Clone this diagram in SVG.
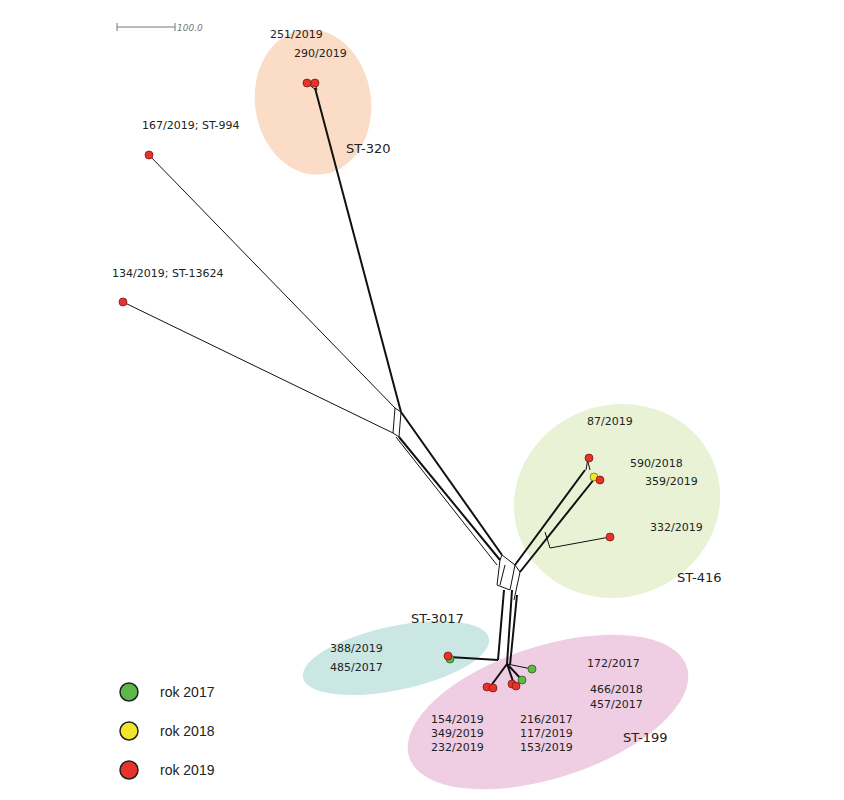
<svg xmlns="http://www.w3.org/2000/svg" width="844" height="800" viewBox="0 0 844 800">
<style>
text{font-family:"DejaVu Sans",sans-serif;font-size:11px;fill:#222}
.st{font-size:13px}
.lg{font-size:14px;font-family:"Liberation Sans",sans-serif}
.e{fill:none;stroke:#111;stroke-width:1}
.b{fill:none;stroke:#111;stroke-width:2}
.r{fill:#e8332a;stroke:#7a1a15;stroke-width:0.8}
.g{fill:#5cb848;stroke:#2d5e22;stroke-width:0.8}
.y{fill:#f1e62a;stroke:#7a7315;stroke-width:0.8}
</style>
<rect width="844" height="800" fill="#fff"/>
<g id="clusters">
<ellipse cx="313" cy="102" rx="58" ry="73" transform="rotate(-8 313 102)" fill="#fbdcc6"/>
<ellipse cx="617" cy="501" rx="104" ry="96" transform="rotate(-20 617 501)" fill="#eaf2d5"/>
<ellipse cx="396" cy="658" rx="95" ry="32" transform="rotate(-12 396 658)" fill="#cbe7e4"/>
<ellipse cx="548" cy="712" rx="146" ry="66" transform="rotate(-18 548 712)" fill="#efcde3"/>
</g>
<g id="scale"><line x1="117" y1="27" x2="175" y2="27" stroke="#777"/><line x1="117" y1="23" x2="117" y2="31" stroke="#777"/><line x1="175" y1="23" x2="175" y2="31" stroke="#777"/><text x="177" y="31" style="font-size:9px;font-style:italic;fill:#777">100.0</text></g>
<g id="connectors">
<path class="e" d="M149 155 L395 408 M123 302 L393 433 M395 408 L393 433 M401 412 L399 437 M395 408 L401 412 M393 433 L399 437"/>
<path class="b" d="M315 88 L401 412"/>
<path class="e" d="M307 83 L316 90 M315 83 L317 90"/>
<path class="b" d="M401 412 L502 555 M399 437 L500 560"/>
<path class="e" d="M396 437 L497 565"/>
<path class="e" d="M502 555 L515 565 L510 590 L497 585 L500 560 Z M505 565 L500 585 M515 565 L520 572 L514 600"/>
<path class="b" d="M515 565 L585 470 M520 572 L595 478"/>
<path class="e" d="M588 462 L590 470 M595 478 L600 480 M588 458 L586 470"/>
<path class="e" d="M545 532 L550 548 L610 537"/>
<path class="b" d="M504 590 L498 660 M512 590 L507 664 M517 595 L510 665"/>
<path class="b" d="M449 657 L498 660"/>
<path class="b" d="M507 664 L490 687 M507 664 L514 684 M507 664 L522 680"/>
<path class="e" d="M507 664 L532 669"/>
</g>
<g id="nodes">
<circle class="r" cx="307" cy="83" r="4"/><circle class="r" cx="315" cy="83" r="4"/>
<circle class="r" cx="149" cy="155" r="4"/>
<circle class="r" cx="123" cy="302" r="4"/>
<circle class="r" cx="589" cy="458" r="4"/>
<circle class="y" cx="594" cy="477" r="4"/><circle class="r" cx="600" cy="480" r="4"/>
<circle class="r" cx="610" cy="537" r="4"/>
<circle class="g" cx="450" cy="659" r="4"/><circle class="r" cx="448" cy="656" r="4"/>
<circle class="g" cx="532" cy="669" r="4"/>
<circle class="g" cx="522" cy="680" r="4"/>
<circle class="r" cx="487" cy="687" r="4"/><circle class="r" cx="493" cy="688" r="4"/>
<circle class="r" cx="512" cy="684" r="4"/><circle class="r" cx="516" cy="686" r="4"/>
</g>
<g id="labels">
<text x="270" y="38">251/2019</text><text x="294" y="57">290/2019</text>
<text x="346" y="153" class="st">ST-320</text>
<text x="142" y="129">167/2019; ST-994</text>
<text x="112" y="277">134/2019; ST-13624</text>
<text x="587" y="425">87/2019</text>
<text x="630" y="467">590/2018</text><text x="645" y="485">359/2019</text>
<text x="650" y="531">332/2019</text>
<text x="677" y="582" class="st">ST-416</text>
<text x="411" y="623" class="st">ST-3017</text>
<text x="330" y="652">388/2019</text><text x="330" y="671">485/2017</text>
<text x="587" y="667">172/2017</text>
<text x="590" y="693">466/2018</text><text x="590" y="708">457/2017</text>
<text x="431" y="723">154/2019</text><text x="431" y="737">349/2019</text><text x="431" y="751">232/2019</text>
<text x="520" y="723">216/2017</text><text x="520" y="737">117/2019</text><text x="520" y="751">153/2019</text>
<text x="623" y="742" class="st">ST-199</text>
</g>
<g id="legend">
<circle class="g" cx="129" cy="692" r="9" style="stroke:#222;stroke-width:1.5"/><text x="160" y="697" class="lg">rok 2017</text>
<circle class="y" cx="129" cy="731" r="9" style="stroke:#222;stroke-width:1.5"/><text x="160" y="736" class="lg">rok 2018</text>
<circle class="r" cx="129" cy="770" r="9" style="stroke:#222;stroke-width:1.5"/><text x="160" y="775" class="lg">rok 2019</text>
</g>
</svg>
